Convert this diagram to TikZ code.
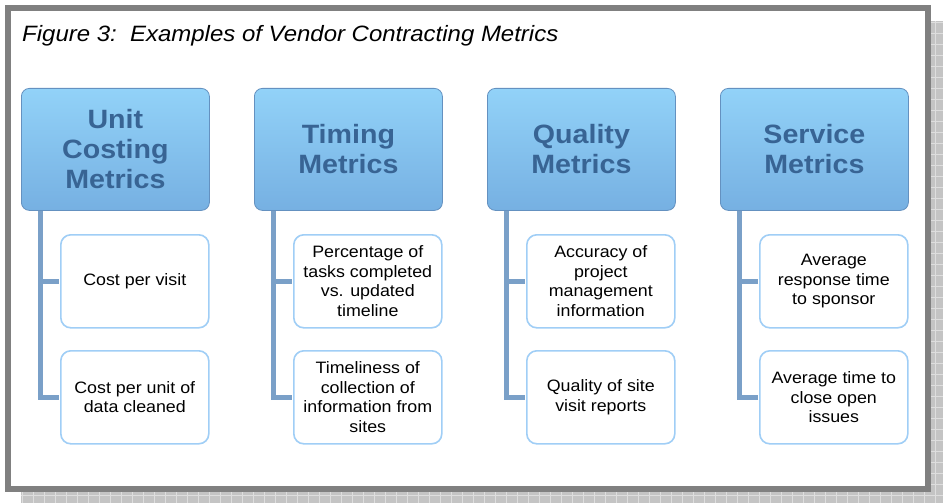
\documentclass[tikz,border=0pt]{standalone}
\usepackage{fontspec}
\setmainfont[FakeStretch=1.08]{Liberation Sans}
\usetikzlibrary{calc}
\definecolor{framegray}{RGB}{128,128,128}
\definecolor{shadowgray}{RGB}{196,196,196}
\definecolor{shadowline}{RGB}{222,222,222}
\definecolor{hdrtop}{RGB}{146,210,248}
\definecolor{hdrbot}{RGB}{118,176,226}
\definecolor{hdrdraw}{RGB}{100,145,192}
\definecolor{hdrtext}{RGB}{56,100,148}
\definecolor{childdraw}{RGB}{160,206,246}
\definecolor{conncol}{RGB}{122,160,200}
\tikzset{
  hdr/.style={rounded corners=8pt, top color=hdrtop, bottom color=hdrbot, draw=hdrdraw, line width=0.8pt,
    minimum width=188pt, minimum height=122pt, anchor=north west, align=center,
    text=hdrtext, font=\fontsize{26.5}{30}\selectfont\bfseries, inner sep=0pt},
  child/.style={rounded corners=10pt, draw=childdraw, fill=white, line width=1.6pt,
    minimum width=148pt, minimum height=93pt, anchor=north west, align=center,
    font=\fontsize{16.5}{19.5}\selectfont, inner sep=0pt},
  conn/.style={draw=conncol, line width=5pt}
}
\begin{document}
\begin{tikzpicture}[x=1pt,y=-1pt]
\useasboundingbox (0,0) rectangle (943,503);
% shadow
\fill[shadowgray] (21,21) rectangle (943,503);
\draw[shadowline, line width=0.8pt, step=11pt] (21,21) grid (943,503);
% frame
\draw[framegray, fill=white, line width=6pt] (8,8) rectangle (928,489);
\node[anchor=west, font=\fontsize{22.2}{26}\selectfont\itshape, inner sep=0pt] (title) at (22,36) {Figure 3:\ \ Examples of Vendor Contracting Metrics};
% columns
\foreach \i/\hx/\htxt/\ca/\cb in {
  1/21/{Unit\\Costing\\Metrics}/{Cost per visit}/{Cost per unit of\\data cleaned},
  2/254/{Timing\\Metrics}/{Percentage of\\tasks completed\\vs. updated\\timeline}/{Timeliness of\\collection of\\information from\\sites},
  3/487/{Quality\\Metrics}/{Accuracy of\\project\\management\\information}/{Quality of site\\visit reports},
  4/720/{Service\\Metrics}/{Average\\response time\\to sponsor}/{Average time to\\close open\\issues}}
{
  \node[hdr] (h\i) at (\hx,88) {\htxt};
  \node[child] (c\i a) at (\hx+39,234) {\ca};
  \node[child] (c\i b) at (\hx+39,350) {\cb};
  \draw[conn] ([xshift=19pt]h\i.south west) |- ([xshift=-0.8pt]c\i a.west);
  \draw[conn] ([xshift=19pt]h\i.south west) |- ([xshift=-0.8pt]c\i b.west);
}
\end{tikzpicture}
\end{document}
